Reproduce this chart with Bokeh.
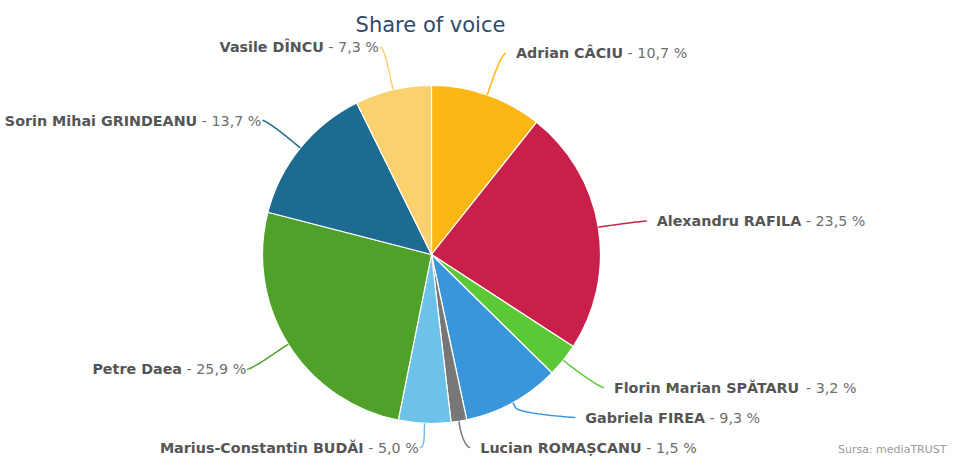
import math, struct, glob, os
import numpy as np
from bokeh.plotting import figure
from bokeh.models import Range1d
from bokeh.embed import file_html
from bokeh.resources import INLINE
from bokeh.core.properties import value

# ---------------- data ----------------
names = ["Adrian CÂCIU", "Alexandru RAFILA", "Florin Marian SPĂTARU", "Gabriela FIREA",
         "Lucian ROMAȘCANU", "Marius-Constantin BUDĂI", "Petre Daea",
         "Sorin Mihai GRINDEANU", "Vasile DÎNCU"]
shares = [10.7, 23.5, 3.2, 9.3, 1.5, 5.0, 25.9, 13.7, 7.3]
colors = ["#FDB714", "#C8204B", "#5BC936", "#3A96DA", "#777777",
          "#6DC2EA", "#50A12A", "#1D6B91", "#FBD16D"]
title_text = "Share of voice"
source_text = "Sursa: mediaTRUST"

# ---------------- layout ----------------
H = 472
CX, CY = 431, 254          # pie centre (pixel space, y down)
R_PIE = 169
R_LAB = 214
BREAK = 6
GAP = 30
YMAX = 446
FS = 14.3

# ---------------- font metrics ----------------
def find_font(fname):
    for base in ["/usr/share/fonts", "/usr/local/share/fonts", os.path.expanduser("~/.fonts")]:
        hits = glob.glob(os.path.join(base, "**", fname), recursive=True)
        if hits:
            return hits[0]
    return None

class Metrics:
    def __init__(self, path, fallback):
        self.ok = False
        self.fallback = fallback
        if path:
            try:
                self._load(path)
                self.ok = True
            except Exception:
                self.ok = False

    def _load(self, path):
        d = open(path, "rb").read()
        self.d = d
        nt = struct.unpack(">H", d[4:6])[0]
        tabs = {}
        for i in range(nt):
            tag, cs, off, ln = struct.unpack(">4sIII", d[12 + 16 * i:28 + 16 * i])
            tabs[tag.decode("latin1")] = (off, ln)
        off = tabs["head"][0]
        self.upem = struct.unpack(">H", d[off + 18:off + 20])[0]
        off = tabs["hhea"][0]
        nhm = struct.unpack(">H", d[off + 34:off + 36])[0]
        off = tabs["hmtx"][0]
        self.adv = [struct.unpack(">H", d[off + 4 * i:off + 4 * i + 2])[0] for i in range(nhm)]
        off = tabs["cmap"][0]
        n = struct.unpack(">H", d[off + 2:off + 4])[0]
        sub = None
        for i in range(n):
            pid, eid, so = struct.unpack(">HHI", d[off + 4 + 8 * i:off + 12 + 8 * i])
            fmt = struct.unpack(">H", d[off + so:off + so + 2])[0]
            if fmt == 4 and (sub is None or (pid == 3 and eid == 1)):
                sub = off + so
        segx2 = struct.unpack(">H", d[sub + 6:sub + 8])[0]
        seg = segx2 // 2
        self.ends = struct.unpack(">%dH" % seg, d[sub + 14:sub + 14 + segx2])
        self.starts = struct.unpack(">%dH" % seg, d[sub + 16 + segx2:sub + 16 + 2 * segx2])
        self.deltas = struct.unpack(">%dh" % seg, d[sub + 16 + 2 * segx2:sub + 16 + 3 * segx2])
        self.ro = sub + 16 + 3 * segx2
        self.ranges = struct.unpack(">%dH" % seg, d[self.ro:self.ro + segx2])
        self.seg = seg

    def glyph(self, c):
        for i in range(self.seg):
            if self.starts[i] <= c <= self.ends[i]:
                if self.ranges[i] == 0:
                    return (c + self.deltas[i]) & 0xFFFF
                addr = self.ro + 2 * i + self.ranges[i] + 2 * (c - self.starts[i])
                g = struct.unpack(">H", self.d[addr:addr + 2])[0]
                return (g + self.deltas[i]) & 0xFFFF if g else 0
        return 0

    def width(self, s, size):
        if not self.ok:
            return len(s) * self.fallback * size
        tot = 0
        for ch in s:
            g = self.glyph(ord(ch))
            tot += self.adv[min(g, len(self.adv) - 1)]
        return tot / self.upem * size

bold_m = Metrics(find_font("DejaVuSans-Bold.ttf"), 0.68)
reg_m = Metrics(find_font("DejaVuSans.ttf"), 0.58)

# ---------------- geometry ----------------
total = float(sum(shares))
fracs = [s / total for s in shares]
cum = np.concatenate([[0.0], np.cumsum(fracs)])
theta_s = cum[:-1] * 2 * math.pi
theta_e = cum[1:] * 2 * math.pi
theta_m = (theta_s + theta_e) / 2

def Y(y):
    return H - y

p = figure(width=947, height=456, output_backend="svg", toolbar_location=None,
           x_range=Range1d(0, 947), y_range=Range1d(H - 456, H),
           x_axis_type=None, y_axis_type=None, min_border=0)
p.outline_line_color = None
p.grid.visible = False
p.background_fill_color = "white"
p.border_fill_color = "white"

p.wedge(x=[CX] * len(shares), y=[Y(CY)] * len(shares), radius=R_PIE,
        start_angle=list(math.pi / 2 - theta_s), end_angle=list(math.pi / 2 - theta_e),
        direction="clock", fill_color=colors, line_color="white", line_width=1.2)

# label positions (Highcharts-like)
sides = [1 if t <= math.pi else -1 for t in theta_m]
nat_y = [CY - R_LAB * math.cos(t) for t in theta_m]
clamped = [ny_ > YMAX for ny_ in nat_y]
lab_y = [min(ny_, YMAX) for ny_ in nat_y]
for side in (1, -1):
    idx = sorted([i for i in range(len(shares)) if sides[i] == side], key=lambda i: -lab_y[i])
    prev = None
    for i in idx:
        if prev is not None:
            lab_y[i] = min(lab_y[i], lab_y[prev] - GAP)
        prev = i

space_w = reg_m.width(" ", FS)
cx_l, cy_l = [], []
nx, ny, ntext, nalign = [], [], [], []
vx, vy, vtext, valign = [], [], [], []
for i, t in enumerate(theta_m):
    side = sides[i]
    y = lab_y[i]
    if clamped[i]:
        ax = CX + R_LAB * math.sin(t)
    else:
        dy = y - CY
        ax = CX + side * math.sqrt(max(R_LAB ** 2 - dy ** 2, 0.0))
    ty = y + 1
    vstr = "- " + ("%.1f" % shares[i]).replace(".", ",") + " %"
    dx_, dy_ = math.sin(t), -math.cos(t)
    T = (CX + R_PIE * dx_, CY + R_PIE * dy_)
    B = (CX + (R_PIE + BREAK) * dx_, CY + (R_PIE + BREAK) * dy_)
    if side == 1:
        tx = ax + 14
        nx.append(tx); ny.append(Y(ty)); ntext.append(names[i]); nalign.append("left")
        vx.append(tx + bold_m.width(names[i], FS) + space_w); vy.append(Y(ty))
        vtext.append(vstr); valign.append("left")
        P0 = (ax + 4, ty)
    else:
        tx = ax - 4
        vx.append(tx); vy.append(Y(ty)); vtext.append(vstr); valign.append("right")
        nx.append(tx - reg_m.width(vstr, FS) - space_w); ny.append(Y(ty))
        ntext.append(names[i]); nalign.append("right")
        P0 = (ax - 3, ty)
    P1 = (P0[0] - 5 * side, P0[1])
    P2 = (2 * B[0] - T[0], 2 * B[1] - T[1])
    tt = np.linspace(0, 1, 30)
    bx = (1 - tt) ** 3 * P0[0] + 3 * (1 - tt) ** 2 * tt * P1[0] + 3 * (1 - tt) * tt ** 2 * P2[0] + tt ** 3 * B[0]
    by = (1 - tt) ** 3 * P0[1] + 3 * (1 - tt) ** 2 * tt * P1[1] + 3 * (1 - tt) * tt ** 2 * P2[1] + tt ** 3 * B[1]
    cx_l.append(list(bx) + [T[0]])
    cy_l.append([Y(v) for v in by] + [Y(T[1])])

p.multi_line(xs=cx_l, ys=cy_l, line_color=colors, line_width=1.5)

p.text(x=nx, y=ny, text=ntext, text_align=nalign, text_baseline="middle",
       text_font=value("DejaVu Sans"), text_font_style="bold",
       text_font_size="%.1fpx" % FS, text_color="#555555")
p.text(x=vx, y=vy, text=vtext, text_align=valign, text_baseline="middle",
       text_font=value("DejaVu Sans"), text_font_size="%.1fpx" % FS, text_color="#6E6E6E")

p.text(x=[430], y=[Y(24)], text=[title_text], text_align="center", text_baseline="middle",
       text_font=value("DejaVu Sans"), text_font_size="21px", text_color="#2E4A6B")
p.text(x=[946], y=[Y(449)], text=[source_text], text_align="right", text_baseline="middle",
       text_font=value("DejaVu Sans"), text_font_size="11px", text_color="#9A9A9A")

open("out.html", "w").write(file_html(p, INLINE))
